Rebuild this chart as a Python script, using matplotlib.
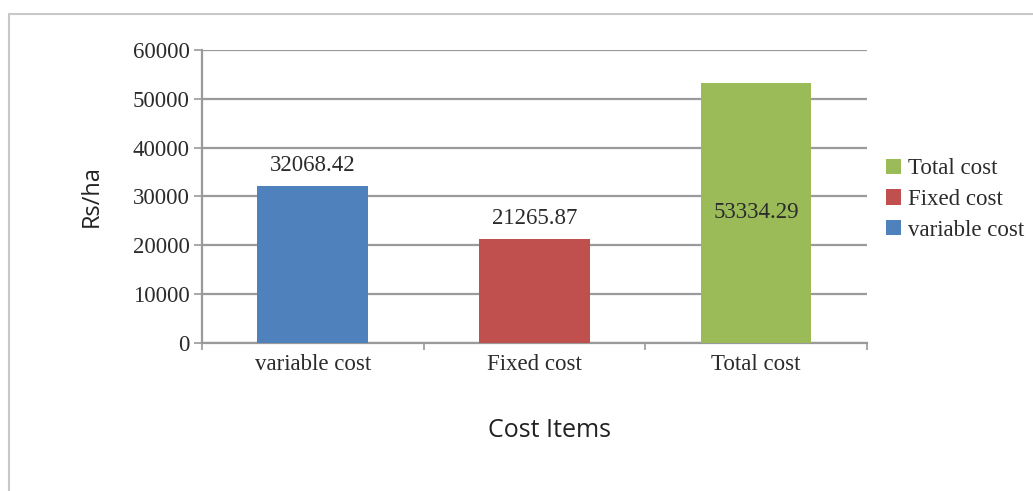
import matplotlib.pyplot as plt
from matplotlib.patches import Rectangle

# cost components (Rs/ha)
items = ['variable cost', 'Fixed cost', 'Total cost']
costs = [32068.42, 21265.87, 53334.29]
colors = ['#4F81BD', '#C0504D', '#9BBB59']

fig = plt.figure(figsize=(10.33, 4.91), dpi=100)
ax = fig.add_axes([0.1955, 0.3014, 0.6437, 0.5968])

x = range(len(items))
bars = ax.bar(x, costs, width=0.5, color=colors, zorder=3)

serif = 'Liberation Serif'
fs = 16.5
txt = '#2b2b2b'

# value labels: first two above the bar, total inside it
for i, (b, v) in enumerate(zip(bars, costs)):
    cx = b.get_x() + b.get_width() / 2
    if i < 2:
        ax.text(cx, v + 4300, f'{v:.2f}', ha='center', va='center',
                fontsize=fs, family=serif, color=txt)
    else:
        ax.text(cx, v / 2, f'{v:.2f}', ha='center', va='center',
                fontsize=fs, family=serif, color=txt)

ax.set_ylim(0, 60000)
ax.set_xlim(-0.5, 2.5)
ax.set_yticks(range(0, 60001, 10000))
ax.yaxis.grid(True, color='#9a9a9a', linewidth=1.6, zorder=0)
ax.set_axisbelow(True)

ax.set_xticks(list(x))
ax.set_xticklabels(items)
ax.set_xticks([-0.5, 0.5, 1.5, 2.5], minor=True)
ax.tick_params(axis='x', which='major', length=0, pad=8)
ax.tick_params(axis='x', which='minor', length=5, color='#9a9a9a', width=1.2)
ax.tick_params(axis='y', length=6, color='#9a9a9a', width=1.2, pad=3)
for lab in ax.get_xticklabels() + ax.get_yticklabels():
    lab.set_family(serif)
    lab.set_fontsize(fs)
    lab.set_color(txt)

for s in ['top', 'right']:
    ax.spines[s].set_visible(False)
for s in ['left', 'bottom']:
    ax.spines[s].set_color('#9a9a9a')
    ax.spines[s].set_linewidth(1.6)

ax.set_ylabel('Rs/ha', fontsize=17, family='Open Sans', color='#222222', labelpad=21)
ax.set_xlabel('Cost Items', fontsize=18, family='Open Sans', color='#222222')
ax.xaxis.set_label_coords(0.522, -0.257)

# legend in reverse order
handles = [bars[2], bars[1], bars[0]]
labels = [items[2], items[1], items[0]]
leg = ax.legend(handles, labels, loc='center left', bbox_to_anchor=(1.012, 0.49),
                frameon=False, handlelength=0.65, handleheight=0.65, handletextpad=0.3,
                labelspacing=0.42, borderpad=0, prop={'family': serif, 'size': fs})
for t in leg.get_texts():
    t.set_color(txt)

# outer frame
fig.patches.append(Rectangle((9 / 1033, -0.1), 1.2, 1 - 14 / 491 + 0.1,
                             transform=fig.transFigure, fill=False,
                             edgecolor='#c8c8c8', linewidth=1.5))

fig.savefig('out.png', dpi=100)
